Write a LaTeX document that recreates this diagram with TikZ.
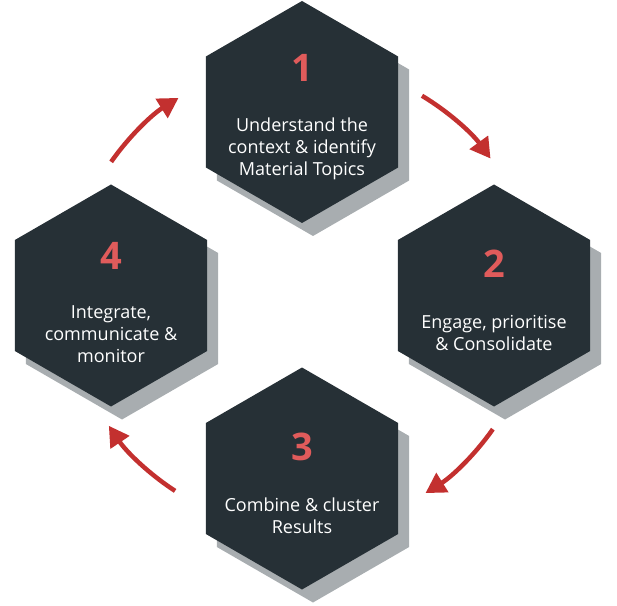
\documentclass[tikz,border=0pt]{standalone}
\usepackage{fontspec}
\setmainfont{Open Sans}
\usetikzlibrary{shapes.geometric,shadows,arrows.meta}

\definecolor{hexfill}{HTML}{263036}
\definecolor{hexshadow}{HTML}{A8ADB0}
\definecolor{numred}{HTML}{E05B5B}
\definecolor{arrowred}{HTML}{C3302F}

\tikzset{
  hexa/.style={shape=regular polygon,regular polygon sides=6,shape border rotate=30,
    minimum size=222pt,inner sep=0pt,fill=hexfill,
    drop shadow={shadow xshift=11pt,shadow yshift=-13pt,fill=hexshadow,opacity=1}},
  num/.style={text=numred,font=\fontsize{38}{38}\selectfont\bfseries},
  lbl/.style={text=white,align=center,font=\fontsize{18}{22}\selectfont},
  flow/.style={draw=arrowred,line width=4.5pt,-{Triangle[width=22pt,length=20pt]}}
}

\begin{document}
\begin{tikzpicture}[x=1pt,y=1pt]
\useasboundingbox (0,0) rectangle (617,605);

\node[hexa] (h1) at (302,493) {};
\node[hexa] (h2) at (494,309.5) {};
\node[hexa] (h3) at (302,126.5) {};
\node[hexa] (h4) at (111,309.5) {};

\node[num] (n1) at ([yshift=44pt]h1.center) {1};
\node[num] (n2) at ([yshift=32pt]h2.center) {2};
\node[num] (n3) at ([yshift=32pt]h3.center) {3};
\node[num] (n4) at ([yshift=40pt]h4.center) {4};

\node[lbl] (t1) at ([yshift=-37pt]h1.center) {Understand the\\context \& identify\\Material Topics};
\node[lbl] (t2) at ([yshift=-37pt]h2.center) {Engage, prioritise\\\& Consolidate};
\node[lbl] (t3) at ([yshift=-37pt]h3.center) {Combine \& cluster\\Results};
\node[lbl] (t4) at ([yshift=-39pt]h4.center) {Integrate,\\communicate \&\\monitor};

% arrows round the middle
\coordinate (c) at (302,309.5);
\coordinate (a12) at ([shift={(59:233)}]c);
\coordinate (a23) at ([shift={(-35:233)}]c);
\coordinate (a34) at ([shift={(-123:233)}]c);
\coordinate (a41) at ([shift={(145:233)}]c);

\draw[flow] (a12) arc[start angle=59,end angle=36,radius=233];
\draw[flow] (a23) arc[start angle=-35,end angle=-58,radius=233];
\draw[flow] (a34) arc[start angle=-123,end angle=-146,radius=233];
\draw[flow] (a41) arc[start angle=145,end angle=122,radius=233];

\end{tikzpicture}
\end{document}
